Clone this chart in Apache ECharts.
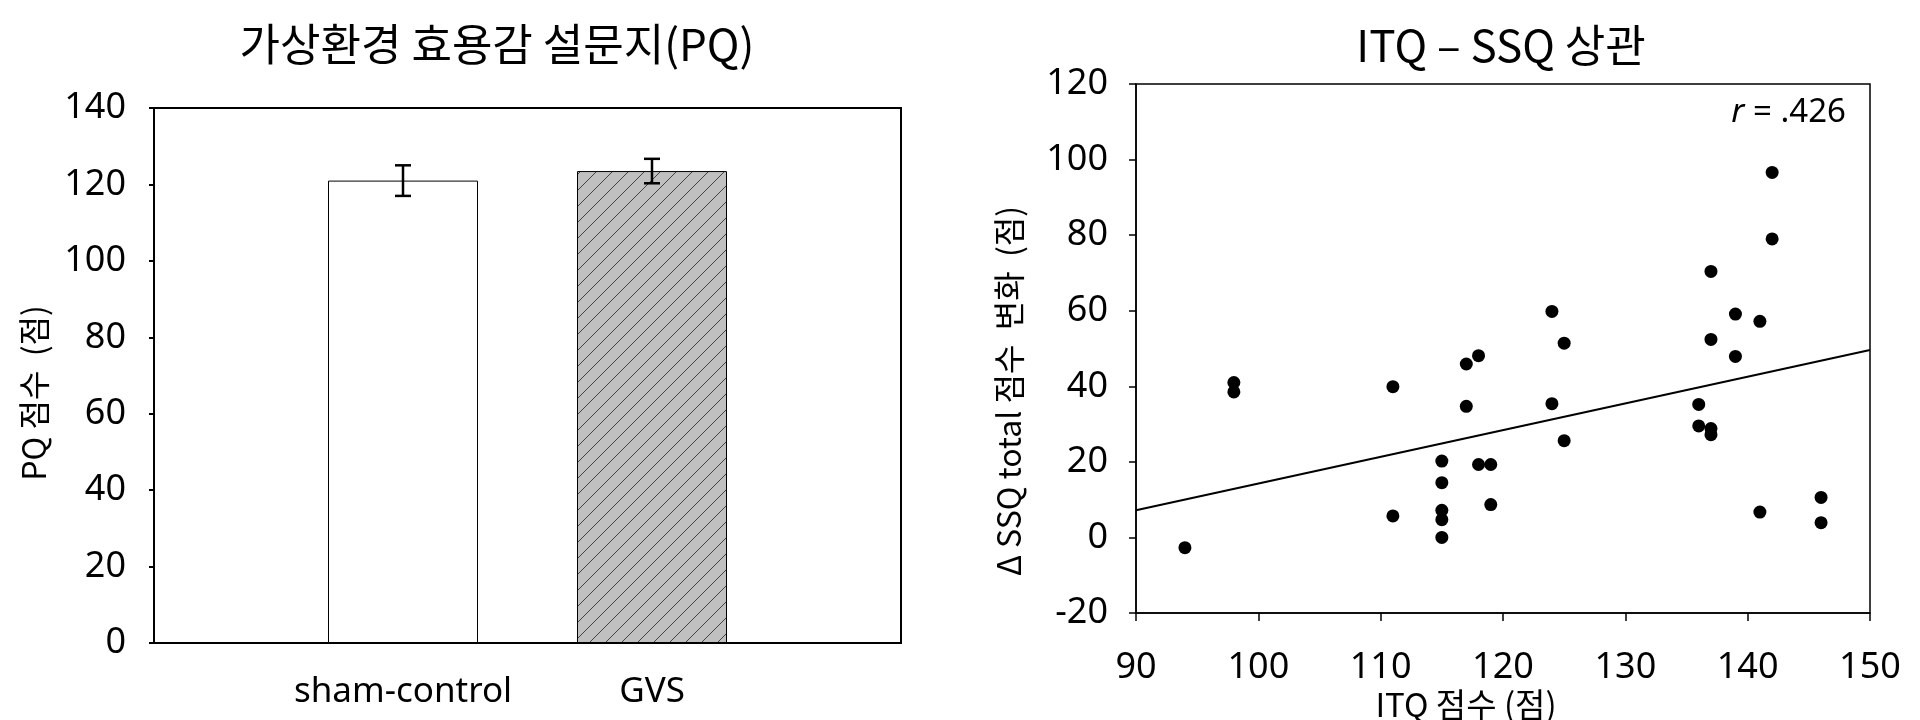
<!DOCTYPE html>
<html><head><meta charset="utf-8">
<script src="https://cdn.jsdelivr.net/npm/echarts@6/dist/echarts.min.js"></script>
<style>html,body{margin:0;padding:0;background:#fff}#c{width:1920px;height:720px}</style>
</head><body><div id="c"></div>
<script>
// ---- data: left bar chart ----
const barCategories = ['sham-control', 'GVS'];
const barMeans = [121.0, 123.5];
const barErrors = [4.0, 3.2];
const barTicks = [0, 20, 40, 60, 80, 100, 120, 140];
// ---- data: right scatter ----
const itqScores = [94, 98, 98, 111, 111, 115, 115, 115, 115, 115, 117, 117, 118, 118, 119, 119,
  124, 124, 125, 125, 136, 136, 137, 137, 137, 137, 139, 139, 141, 141, 142, 142, 146, 146];
const ssqChange = [-2.7, 41.0, 38.5, 39.9, 5.7, 20.2, 14.5, 7.2, 4.7, 0.0, 45.9, 34.7, 48.1, 19.3, 19.3, 8.7,
  59.8, 35.4, 51.4, 25.6, 35.2, 29.5, 70.4, 52.4, 28.8, 27.2, 59.1, 47.9, 57.2, 6.7, 96.6, 79.0, 10.6, 3.9];
const trendX = [90, 150];
const trendY = [7.2, 49.6];
const corrText = '.426';

// hatch pattern for GVS bar
function hatch() {
  const s = 16;
  const c = document.createElement('canvas');
  c.width = s; c.height = s;
  const g = c.getContext('2d');
  g.fillStyle = '#c0c0c0'; g.fillRect(0, 0, s, s);
  g.strokeStyle = '#222'; g.lineWidth = 0.8;
  g.beginPath();
  g.moveTo(0, s); g.lineTo(s, 0);
  g.moveTo(-s / 2, s / 2); g.lineTo(s / 2, -s / 2);
  g.moveTo(s / 2, s * 1.5); g.lineTo(s * 1.5, s / 2);
  g.stroke();
  return c;
}

const axisCats = [''].concat(barCategories, ['']);
const barData = ['-'].concat(barMeans.map((v, i) => ({
  value: v,
  itemStyle: i === 0 ? { color: '#ffffff' } : { color: { image: hatch(), repeat: 'repeat' } }
})), ['-']);
const errData = barMeans.map((v, i) => [i + 1, v - barErrors[i], v + barErrors[i]]);

const tickFont = 'Noto Sans';
const cjk = '"Noto Sans CJK KR"';

const chart = echarts.init(document.getElementById('c'), null, { renderer: 'canvas' });
chart.setOption({
  animation: false,
  backgroundColor: '#fff',
  grid: [
    { left: 154, top: 108, width: 747, height: 535, show: true, borderColor: '#000', borderWidth: 2, containLabel: false },
    { left: 1136, top: 84, width: 734, height: 529, show: true, borderColor: '#000', borderWidth: 1.5, containLabel: false }
  ],
  xAxis: [
    {
      gridIndex: 0, type: 'category', data: axisCats, boundaryGap: false,
      axisLine: { lineStyle: { color: '#000', width: 2 } },
      axisTick: { show: false },
      axisLabel: { color: '#000', fontSize: 35, fontFamily: tickFont, margin: 32, interval: 0 },
      splitLine: { show: false }
    },
    {
      gridIndex: 1, type: 'value', min: 90, max: 150, interval: 10,
      axisLine: { onZero: false, lineStyle: { color: '#000', width: 1.5 } },
      axisTick: { show: true, inside: false, length: 8, lineStyle: { color: '#000', width: 1.5 } },
      axisLabel: { color: '#000', fontSize: 36, fontFamily: tickFont, margin: 37 },
      splitLine: { show: false }
    }
  ],
  yAxis: [
    {
      gridIndex: 0, type: 'value', min: 0, max: 140, interval: 20,
      axisLine: { show: true, lineStyle: { color: '#000', width: 2 } },
      axisTick: { show: true, length: 5, lineStyle: { color: '#000', width: 2 } },
      axisLabel: { color: '#000', fontSize: 36, fontFamily: tickFont, margin: 28,
        formatter: v => barTicks.includes(v) ? String(v) : '' },
      splitLine: { show: false }
    },
    {
      gridIndex: 1, type: 'value', min: -20, max: 120, interval: 20,
      axisLine: { show: true, onZero: false, lineStyle: { color: '#000', width: 1.5 } },
      axisTick: { show: true, length: 7, lineStyle: { color: '#000', width: 1.5 } },
      axisLabel: { color: '#000', fontSize: 36, fontFamily: tickFont, margin: 28 },
      splitLine: { show: false }
    }
  ],
  series: [
    {
      type: 'bar', xAxisIndex: 0, yAxisIndex: 0, data: barData, barWidth: 150,
      itemStyle: { borderColor: '#000', borderWidth: 1 }
    },
    {
      type: 'custom', xAxisIndex: 0, yAxisIndex: 0, data: errData, z: 5,
      renderItem: function (params, api) {
        const x = api.value(0);
        const lo = api.coord([x, api.value(1)]);
        const hi = api.coord([x, api.value(2)]);
        const hw = 8;
        const st = { stroke: '#000', lineWidth: 2.5, fill: null };
        return {
          type: 'group', children: [
            { type: 'line', shape: { x1: lo[0], y1: lo[1], x2: hi[0], y2: hi[1] }, style: st },
            { type: 'line', shape: { x1: lo[0] - hw, y1: lo[1], x2: lo[0] + hw, y2: lo[1] }, style: st },
            { type: 'line', shape: { x1: hi[0] - hw, y1: hi[1], x2: hi[0] + hw, y2: hi[1] }, style: st }
          ]
        };
      }
    },
    {
      type: 'scatter', xAxisIndex: 1, yAxisIndex: 1, symbol: 'circle', symbolSize: 13,
      data: itqScores.map((x, i) => [x, ssqChange[i]]),
      itemStyle: { color: '#000', opacity: 1 }, z: 4
    },
    {
      type: 'line', xAxisIndex: 1, yAxisIndex: 1, symbol: 'none',
      data: trendX.map((x, i) => [x, trendY[i]]),
      lineStyle: { color: '#000', width: 2 }, z: 3
    }
  ],
  graphic: [
    { type: 'text', x: 497, y: 44, style: { text: '가상환경 효용감 설문지(PQ)', font: '44px ' + cjk, fill: '#000', textAlign: 'center', textVerticalAlign: 'middle' } },
    { type: 'text', x: 1501, y: 45, style: { text: 'ITQ – SSQ 상관', font: '44px ' + cjk, fill: '#000', textAlign: 'center', textVerticalAlign: 'middle' } },
    { type: 'text', x: 34, y: 393, rotation: Math.PI / 2, style: { text: 'PQ 점수  (점)', font: '32px ' + cjk, fill: '#000', textAlign: 'center', textVerticalAlign: 'middle' } },
    { type: 'text', x: 1009, y: 391, rotation: Math.PI / 2, style: { text: 'Δ SSQ total 점수  변화  (점)', font: '32px ' + cjk, fill: '#000', textAlign: 'center', textVerticalAlign: 'middle' } },
    { type: 'text', x: 1466, y: 704, style: { text: 'ITQ 점수 (점)', font: '33px ' + cjk, fill: '#000', textAlign: 'center', textVerticalAlign: 'middle' } },
    { type: 'text', x: 1846, y: 113, style: {
        text: '{i|r} = ' + corrText, textAlign: 'right', textVerticalAlign: 'middle',
        font: '33px "Noto Sans"', fill: '#000',
        rich: { i: { fontStyle: 'italic', fontSize: 33, fontFamily: 'Noto Sans', fill: '#000' } } } }
  ]
});
</script>
</body></html>
